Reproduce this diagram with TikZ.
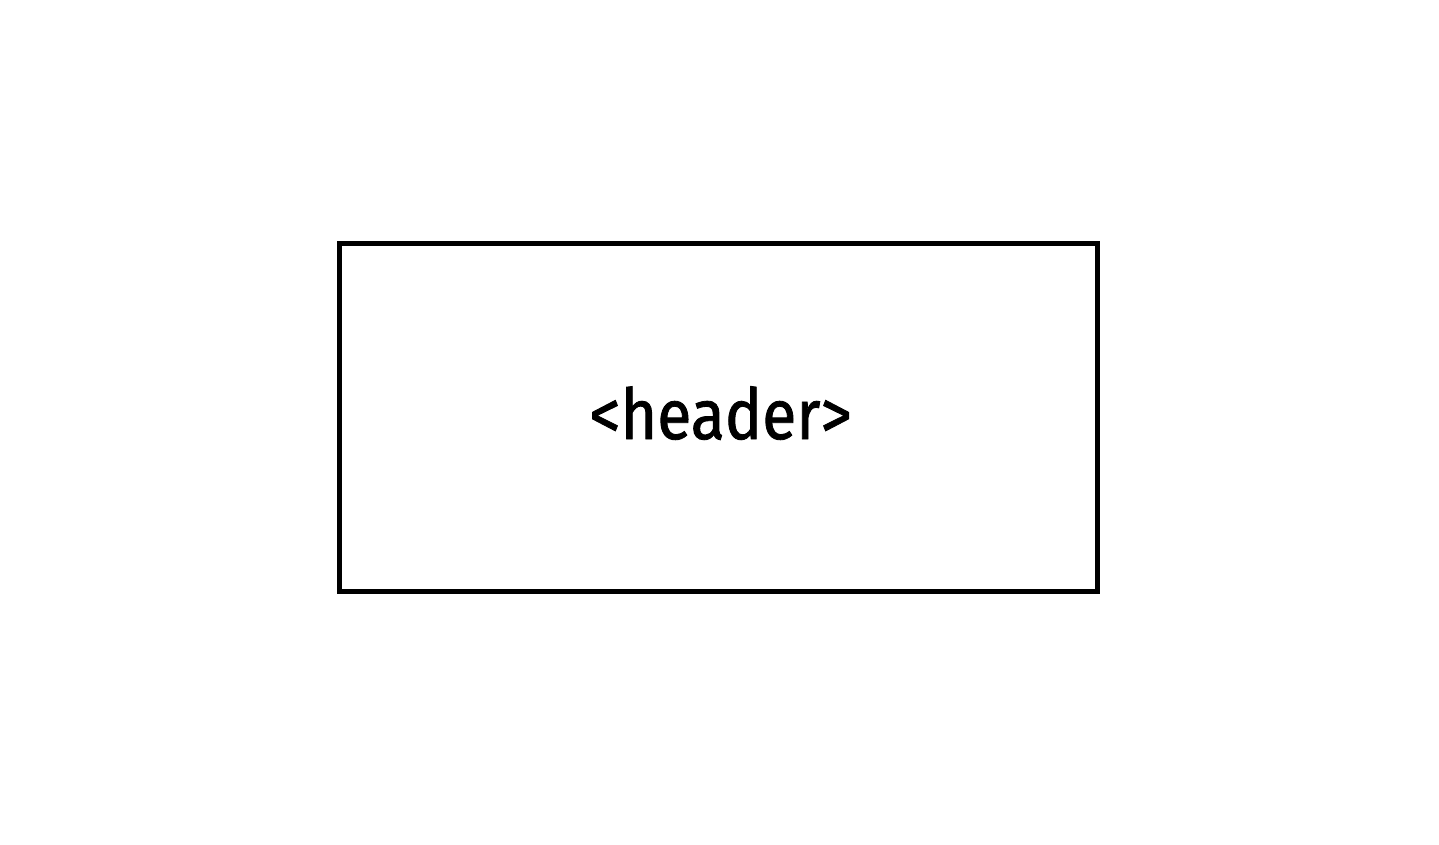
\documentclass[tikz,border=0pt]{standalone}
\usepackage{fontspec}
\setmainfont{Fira Sans}
\newfontfamily\labelfont[FakeStretch=0.89,FakeBold=1.2]{Fira Sans}
\begin{document}
\begin{tikzpicture}[x=1cm,y=-1cm,
  boxstyle/.style={draw=black,line width=1.4pt,minimum width=7.58cm,minimum height=3.48cm,inner sep=0pt},
  labelstyle/.style={font=\labelfont\fontsize{20}{24}\selectfont,inner sep=0pt}]
\useasboundingbox (0,0) rectangle (14.39,8.45);
\node[boxstyle] (box) at (7.185,4.175) {};
\node[labelstyle,anchor=base] (lbl) at (7.205,4.39) {<header>};
\end{tikzpicture}
\end{document}
